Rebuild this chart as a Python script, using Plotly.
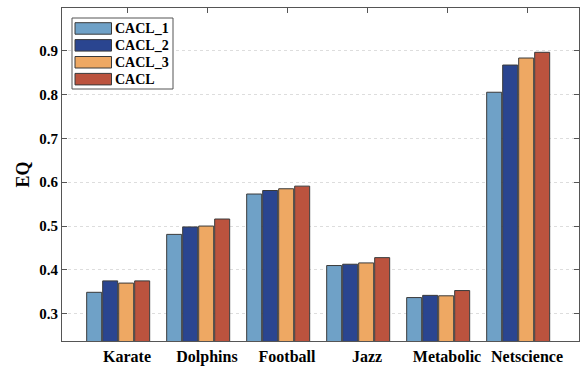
import plotly.graph_objects as go

categories = ["Karate", "Dolphins", "Football", "Jazz", "Metabolic", "Netscience"]
series_names = ["CACL_1", "CACL_2", "CACL_3", "CACL"]
cacl_1 = [0.349, 0.481, 0.573, 0.410, 0.337, 0.805]
cacl_2 = [0.375, 0.498, 0.581, 0.413, 0.342, 0.867]
cacl_3 = [0.370, 0.500, 0.585, 0.416, 0.341, 0.883]
cacl = [0.375, 0.516, 0.591, 0.428, 0.353, 0.896]
y_ticks = [0.3, 0.4, 0.5, 0.6, 0.7, 0.8, 0.9]

values = [cacl_1, cacl_2, cacl_3, cacl]
colors = ["#6fa1c7", "#2a4590", "#eea863", "#bb533e"]
offsets = [-0.504, -0.304, -0.104, 0.096]

FONT = "Liberation Serif, Times New Roman, serif"
W, H = 581, 368
ML, MR, MT, MB = 62, 2, 8, 27
PW, PH = W - ML - MR, H - MT - MB


def px_x(p):
    return (p - ML) / PW


def px_y(p):
    return (H - MB - p) / PH


fig = go.Figure()
for name, vals, col, off in zip(series_names, values, colors, offsets):
    fig.add_trace(go.Bar(
        x=categories, y=vals, name=name,
        marker=dict(color=col, line=dict(color="#3a3a3a", width=1)),
        offset=off, width=0.1875, showlegend=False,
    ))

# legend drawn as a box with swatches and labels
shapes = [dict(type="rect", xref="paper", yref="paper",
               x0=px_x(72), x1=px_x(173), y0=px_y(89), y1=px_y(18),
               line=dict(color="#555555", width=1), fillcolor="white", layer="above")]
annotations = []
for i, (name, col) in enumerate(zip(series_names, colors)):
    top = 22.7 + i * 16.9
    shapes.append(dict(type="rect", xref="paper", yref="paper",
                       x0=px_x(75), x1=px_x(111.5), y0=px_y(top + 11.5), y1=px_y(top),
                       line=dict(color="#3a3a3a", width=1), fillcolor=col, layer="above"))
    annotations.append(dict(xref="paper", yref="paper", x=px_x(113), y=px_y(top + 5.8),
                            xanchor="left", yanchor="middle", showarrow=False, text="<b>%s</b>" % name,
                            font=dict(family=FONT, size=14, color="black")))

xr = [-0.8125, 5.65]
fig.update_layout(
    width=W, height=H,
    margin=dict(l=ML, r=MR, t=MT, b=MB),
    plot_bgcolor="white", paper_bgcolor="white",
    barmode="overlay",
    shapes=shapes, annotations=annotations,
    xaxis=dict(
        type="category", range=xr, showgrid=False, automargin=False,
        showline=True, linecolor="#555555", linewidth=1, mirror="ticks",
        ticks="inside", ticklen=5, tickcolor="#555555", layer="below traces",
        tickfont=dict(family=FONT, size=16, color="black", weight="bold"),
        ticklabelstandoff=1,
    ),
    yaxis=dict(
        range=[0.238, 0.997], tickvals=y_ticks, automargin=False,
        tickformat=".1f",
        showline=True, linecolor="#555555", linewidth=1, mirror="ticks",
        ticks="inside", ticklen=5, tickcolor="#555555",
        showgrid=True, gridcolor="#dddddd", griddash="dot", gridwidth=1,
        zeroline=False,
        tickfont=dict(family=FONT, size=15, color="black", weight="bold"),
        title=dict(text="<b>EQ</b>", font=dict(family=FONT, size=18, color="black"), standoff=4),
    ),
)
fig.write_html("out.html", config={"displayModeBar": False},
               post_script="document.body.style.margin='0';document.body.style.overflow='hidden';")
